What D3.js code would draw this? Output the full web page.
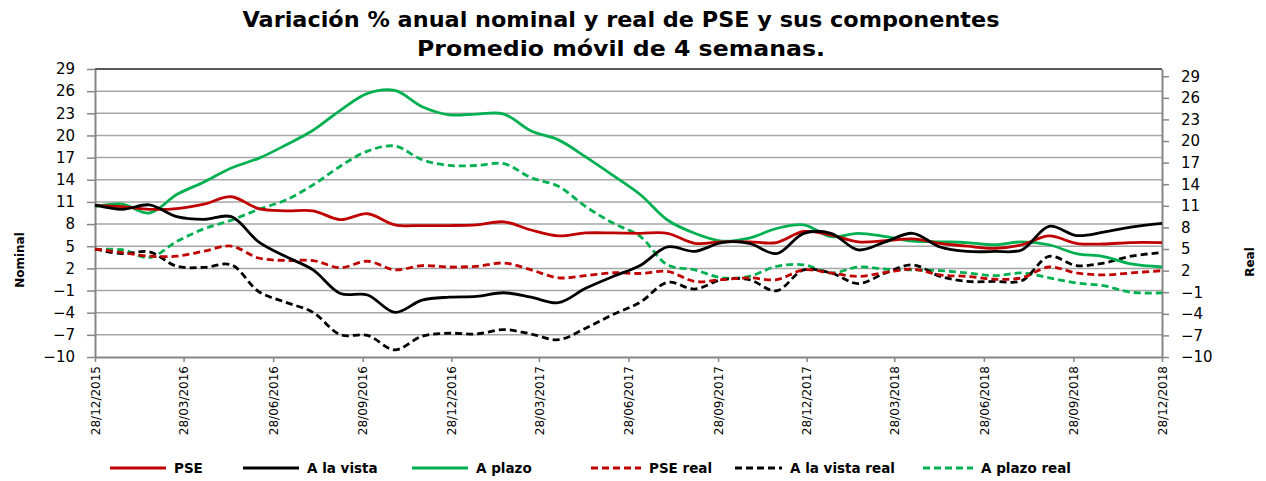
<!DOCTYPE html>
<html>
<head>
<meta charset="utf-8">
<script src="https://cdn.jsdelivr.net/npm/d3@7"></script>
<style>
  body { margin: 0; background: #fff; }
  text { font-family: "DejaVu Sans", sans-serif; }
</style>
</head>
<body>
<div id="chart"></div>
<script>
// fechas (cada 4 semanas aprox.) y series
var fechas = ["2015-12-28","2016-01-25","2016-02-22","2016-03-21","2016-04-18","2016-05-16","2016-06-13","2016-07-11",
  "2016-08-08","2016-09-05","2016-10-03","2016-10-31","2016-11-28","2016-12-26","2017-01-23","2017-02-20",
  "2017-03-20","2017-04-17","2017-05-15","2017-06-12","2017-07-10","2017-08-07","2017-09-04","2017-10-02",
  "2017-10-30","2017-11-27","2017-12-25","2018-01-22","2018-02-19","2018-03-19","2018-04-16","2018-05-14",
  "2018-06-11","2018-07-09","2018-08-06","2018-09-03","2018-10-01","2018-10-29","2018-11-26","2018-12-28"];

var pse = [10.5,10.35,10.0,10.1,10.7,11.7,10.1,9.8,9.8,8.6,9.4,7.9,7.8,7.8,7.9,8.3,7.2,6.4,6.8,6.8,
  6.75,6.75,5.4,5.6,5.6,5.5,7.0,6.5,5.6,5.75,6.0,5.4,5.0,4.7,5.2,6.4,5.4,5.3,5.5,5.5];
var aLaVista = [10.6,10.0,10.6,9.0,8.65,9.0,5.6,3.6,1.8,-1.4,-1.6,-3.95,-2.3,-1.9,-1.8,-1.3,-1.9,-2.65,-0.7,0.9,
  2.4,4.9,4.3,5.5,5.4,4.0,6.75,6.75,4.5,5.6,6.75,4.9,4.3,4.3,4.5,7.7,6.45,6.9,7.6,8.1];
var aPlazo = [10.35,10.7,9.5,12.0,13.7,15.6,16.9,18.7,20.7,23.4,25.7,26.1,23.9,22.8,22.9,22.9,20.6,19.4,17.1,14.6,
  12.0,8.55,6.75,5.7,6.1,7.4,7.9,6.3,6.75,6.3,5.7,5.6,5.5,5.2,5.6,5.2,4.0,3.6,2.6,2.2];
var pseReal = [5.0,4.5,4.0,4.0,4.7,5.4,3.75,3.4,3.4,2.4,3.3,2.1,2.7,2.5,2.6,3.05,2.1,1.0,1.3,1.7,
  1.6,1.9,0.5,0.74,1.0,0.74,2.1,1.67,1.2,1.75,2.2,1.4,1.2,0.8,1.0,2.5,1.67,1.4,1.67,2.0];
var aLaVistaReal = [5.0,4.35,4.6,2.6,2.45,2.8,-0.9,-2.4,-3.8,-6.9,-7.0,-9.0,-7.1,-6.7,-6.8,-6.2,-6.8,-7.6,-6.0,-4.1,
  -2.4,0.36,-0.56,0.74,0.74,-0.8,2.1,1.67,0.2,1.67,2.8,1.2,0.5,0.5,0.6,3.97,2.7,3.05,4.0,4.5];
var aPlazoReal = [4.9,4.9,3.8,6.05,7.8,9.0,10.5,11.8,13.9,16.5,18.6,19.3,17.4,16.6,16.6,16.85,14.9,13.7,10.9,8.6,
  6.75,2.8,2.1,1.0,1.2,2.6,2.8,1.67,2.5,2.2,2.1,2.0,1.67,1.3,1.67,1.0,0.28,-0.1,-1.0,-1.1];

var ticksFechas = ["2015-12-28","2016-03-28","2016-06-28","2016-09-28","2016-12-28","2017-03-28","2017-06-28",
  "2017-09-28","2017-12-28","2018-03-28","2018-06-28","2018-09-28","2018-12-28"];
var ticksY = [-10,-7,-4,-1,2,5,8,11,14,17,20,23,26,29];

var titulo = ["Variación % anual nominal y real de PSE y sus componentes", "Promedio móvil de 4 semanas."];
var nombres = ["PSE","A la vista","A plazo","PSE real","A la vista real","A plazo real"];

var width = 1266, height = 481;
var pLeft = 95, pRight = 1162, pTop = 69, pBottom = 357;

var parse = d3.timeParse("%Y-%m-%d");

var x = d3.scaleTime()
  .domain([parse("2015-12-28"), parse("2018-12-28")])
  .range([pLeft, pRight]);
var yNom = d3.scaleLinear().domain([-10, 29]).range([pBottom, pTop]);
var yReal = d3.scaleLinear().domain([-10, 30]).range([pBottom, pTop]);

var svg = d3.select("#chart")
  .append("svg")
    .attr("width", width)
    .attr("height", height)
    .style("background", "#fff");

// titulo (ancho ajustado como en el original)
var anchoTitulo = [757, 408];
svg.selectAll(".titulo")
  .data(titulo).enter()
  .append("text")
    .attr("x", 621)
    .attr("y", function(d, i) { return 27 + i * 29; })
    .attr("text-anchor", "middle")
    .attr("textLength", function(d, i) { return anchoTitulo[i]; })
    .attr("lengthAdjust", "spacingAndGlyphs")
    .style("font-size", "21px")
    .style("font-weight", "bold")
    .text(function(d) { return d; });

// lineas de grilla
svg.append("g")
  .selectAll("line")
  .data(ticksY.slice(1, -1)).enter()
  .append("line")
    .attr("x1", pLeft).attr("x2", pRight)
    .attr("y1", function(d) { return yNom(d); })
    .attr("y2", function(d) { return yNom(d); })
    .style("stroke", "#a6a6a6")
    .style("stroke-width", 1.5);

svg.append("line")
  .attr("x1", pLeft).attr("x2", pRight)
  .attr("y1", yNom(29)).attr("y2", yNom(29))
  .style("stroke", "#222")
  .style("stroke-width", 1.5);

// ejes
var ejeIzq = svg.append("g")
  .attr("transform", "translate(" + pLeft + ",0)")
  .call(d3.axisLeft(yNom).tickValues(ticksY).tickSize(8).tickPadding(12).tickSizeOuter(0));

var ejeDer = svg.append("g")
  .attr("transform", "translate(" + pRight + ",0)")
  .call(d3.axisRight(yReal).tickValues(ticksY).tickSize(7).tickPadding(12).tickSizeOuter(0));

var ejeX = svg.append("g")
  .attr("transform", "translate(0," + pBottom + ")")
  .call(d3.axisBottom(x).tickValues(ticksFechas.map(parse)).tickSize(5).tickSizeOuter(0)
    .tickFormat(d3.timeFormat("%d/%m/%Y")));

ejeX.selectAll("text")
  .attr("transform", "rotate(-90)")
  .attr("x", -9)
  .attr("y", 0)
  .attr("dy", "0.35em")
  .style("text-anchor", "end")
  .style("font-size", "12px");

[ejeIzq, ejeDer, ejeX].forEach(function(g) {
  g.select(".domain").style("stroke", "#868686").style("stroke-width", 2);
  g.selectAll(".tick line").style("stroke", "#868686").style("stroke-width", 1.5);
  g.selectAll("text").style("fill", "#000").style("font-family", "DejaVu Sans");
});
ejeIzq.selectAll("text").style("font-size", "15px");
ejeDer.selectAll("text").style("font-size", "15px");

// titulos de ejes
svg.append("text")
  .attr("transform", "translate(24,260) rotate(-90)")
  .attr("text-anchor", "middle")
  .style("font-size", "12px")
  .style("font-weight", "bold")
  .text("Nominal");

svg.append("text")
  .attr("transform", "translate(1254,262) rotate(-90)")
  .attr("text-anchor", "middle")
  .style("font-size", "12px")
  .style("font-weight", "bold")
  .text("Real");

// series
var series = [
  { nombre: nombres[0], valores: pse, y: yNom, color: "#c00000", dash: null },
  { nombre: nombres[1], valores: aLaVista, y: yNom, color: "#000000", dash: null },
  { nombre: nombres[2], valores: aPlazo, y: yNom, color: "#00b050", dash: null },
  { nombre: nombres[3], valores: pseReal, y: yReal, color: "#c00000", dash: "7,4" },
  { nombre: nombres[4], valores: aLaVistaReal, y: yReal, color: "#000000", dash: "7,4" },
  { nombre: nombres[5], valores: aPlazoReal, y: yReal, color: "#00b050", dash: "7,4" }
];

var dibujo = [5, 4, 3, 2, 0, 1]; // orden de dibujo
dibujo.forEach(function(i) {
  var s = series[i];
  var linea = d3.line()
    .x(function(d, j) { return x(parse(fechas[j])); })
    .y(function(d) { return s.y(d); })
    .curve(d3.curveCatmullRom.alpha(0.5));
  svg.append("path")
    .datum(s.valores)
    .attr("d", linea)
    .style("fill", "none")
    .style("stroke", s.color)
    .style("stroke-width", 2.8)
    .style("stroke-dasharray", s.dash);
});

// leyenda
var legX = [110, 243, 412, 591, 735, 923];
var legLen = [56, 56, 56, 50, 47, 50];
var leyenda = svg.selectAll(".ley")
  .data(series).enter()
  .append("g")
    .attr("transform", function(d, i) { return "translate(" + legX[i] + ",468)"; });

leyenda.append("line")
  .attr("x1", 0)
  .attr("x2", function(d, i) { return legLen[i]; })
  .style("stroke", function(d) { return d.color; })
  .style("stroke-width", 2.8)
  .style("stroke-dasharray", function(d) { return d.dash; });

leyenda.append("text")
  .attr("x", function(d, i) { return legLen[i] + 8; })
  .attr("dy", "0.35em")
  .style("font-size", "13.5px")
  .style("font-weight", "bold")
  .text(function(d) { return d.nombre; });
</script>
</body>
</html>
